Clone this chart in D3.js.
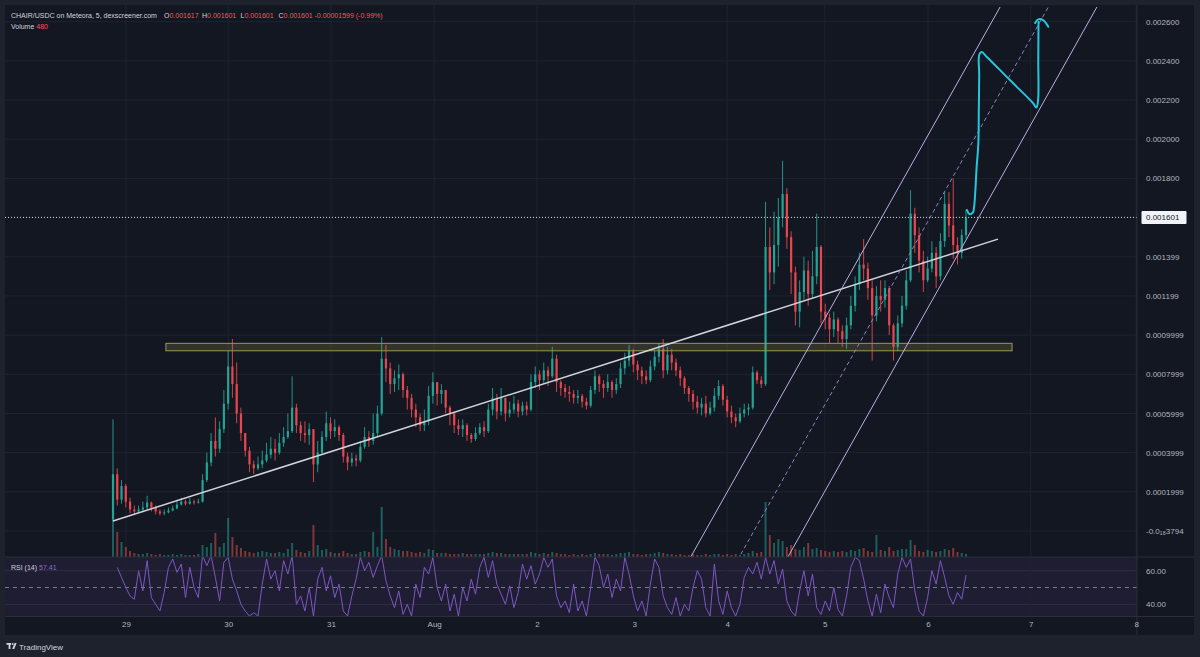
<!DOCTYPE html>
<html>
<head>
<meta charset="utf-8">
<script src="https://cdn.jsdelivr.net/npm/d3@7"></script>
<style>
  body { margin: 0; background: #1e222d; }
  svg { display: block; font-family: "Liberation Sans", Arial, sans-serif; }
</style>
</head>
<body>
<svg id="chart" width="1200" height="657"></svg>
<script>
// prices are typed in units of 0.0001
const UNIT = 1e-4;
const FIRST_OPEN = 0.6;

// one candle per bar index, open = previous close
const closes = [
  2.9, 1.6, 2.3, 1.5, 1.1, 1.0, 1.1, 1.2, 1.45, 1.2,
  1.0, 0.9, 0.95, 1.05, 1.15, 1.35, 1.5, 1.4, 1.5, 1.45,
  1.5, 2.6, 3.5, 4.6, 4.2, 5.2, 6.5, 8.4, 7.5, 6.0,
  5.0, 4.1, 3.4, 3.2, 3.4, 3.6, 3.9, 4.2, 4.0, 4.5,
  4.8, 5.1, 6.3, 5.4, 5.0, 4.9, 5.2, 3.4, 4.0, 4.8,
  5.5, 5.1, 5.3, 4.9, 3.8, 3.5, 3.7, 3.6, 4.3, 4.8,
  4.6, 5.0, 6.0, 8.8, 8.3, 7.5, 7.8, 8.0, 7.2, 6.8,
  6.2, 5.8, 5.4, 5.6, 6.9, 7.6, 7.0, 7.2, 6.3, 6.0,
  5.4, 5.2, 5.4, 4.9, 4.7, 5.0, 5.3, 5.1, 6.2, 6.8,
  6.1, 6.8, 6.0, 6.2, 6.5, 6.1, 6.4, 6.2, 7.6, 8.0,
  7.7, 8.2, 7.9, 8.8, 7.6, 7.3, 7.1, 7.0, 6.8, 6.9,
  6.6, 6.4, 7.2, 7.9, 7.5, 7.3, 7.6, 7.2, 7.5, 8.3,
  8.7, 9.2, 8.5, 8.2, 7.9, 7.7, 8.4, 8.9, 9.3, 8.2,
  9.0, 8.6, 8.2, 7.8, 7.3, 7.0, 6.6, 6.3, 6.5, 6.0,
  6.3, 6.9, 7.4, 6.7, 6.1, 5.8, 5.6, 6.0, 6.2, 6.3,
  8.1, 7.7, 7.5, 14.5, 13.2, 14.6, 16.0, 17.2, 15.0, 13.2,
  11.2, 12.2, 13.3, 12.1, 13.0, 14.5, 11.2, 10.9, 10.3, 10.8,
  10.2, 9.8, 10.5, 11.5, 12.6, 13.6, 13.4, 12.4, 11.0, 12.0,
  11.8, 12.4, 10.5, 9.4, 10.6, 11.5, 12.8, 16.2, 15.1, 13.8,
  12.8, 13.4, 14.2, 13.0, 14.8, 16.7, 15.6, 14.6, 14.2, 15.1,
  16.01
];
const highs = [
  5.7, 3.2, 2.6, 2.4, 1.7, 1.3, 1.3, 1.5, 1.8, 1.5,
  1.3, 1.1, 1.1, 1.2, 1.3, 1.6, 1.7, 1.6, 1.7, 1.6,
  1.65, 2.9, 4.0, 5.0, 5.8, 5.6, 7.2, 9.2, 9.8, 8.6,
  6.3, 5.0, 4.3, 3.6, 3.8, 4.1, 4.5, 4.8, 4.7, 5.0,
  5.3, 6.0, 7.9, 6.5, 5.6, 5.6, 5.5, 5.2, 4.6, 5.1,
  6.1, 5.8, 5.7, 5.4, 5.0, 4.0, 4.0, 3.9, 4.6, 5.3,
  5.1, 6.0, 6.4, 9.9, 9.5, 8.6, 8.2, 8.5, 8.1, 7.4,
  7.0, 6.5, 6.0, 6.2, 7.4, 8.1, 7.6, 7.5, 7.1, 6.4,
  6.1, 5.7, 5.7, 5.5, 5.0, 5.3, 5.5, 5.6, 6.5, 7.3,
  7.0, 7.3, 6.8, 6.6, 6.9, 6.7, 6.6, 6.6, 8.0, 8.4,
  8.2, 8.6, 8.4, 9.4, 9.0, 7.7, 7.5, 7.4, 7.2, 7.2,
  7.0, 6.8, 7.4, 8.2, 8.0, 7.7, 8.0, 7.7, 7.8, 8.6,
  9.1, 9.5, 9.3, 8.7, 8.4, 8.2, 8.7, 9.2, 9.6, 9.8,
  9.4, 9.3, 8.8, 8.4, 7.9, 7.4, 7.2, 6.9, 6.8, 6.9,
  6.6, 7.3, 7.7, 7.5, 6.9, 6.4, 6.0, 6.3, 6.5, 6.5,
  8.4, 8.2, 7.9, 16.8, 15.5, 16.3, 17.0, 18.9, 17.5, 15.3,
  13.5, 12.8, 14.0, 13.8, 14.3, 16.2, 14.6, 11.6, 11.1, 11.2,
  10.9, 10.5, 10.9, 12.0, 13.0, 14.2, 14.9, 13.7, 12.8, 12.5,
  12.8, 12.8, 12.5, 10.6, 11.0, 12.0, 13.3, 17.4, 16.5, 15.5,
  14.3, 14.0, 14.8, 14.5, 15.2, 17.3, 17.3, 18.0, 15.0, 15.4,
  16.4
];
const lows = [
  0.5, 1.3, 1.4, 1.2, 0.9, 0.85, 0.9, 0.95, 1.1, 1.0,
  0.85, 0.8, 0.8, 0.9, 1.0, 1.1, 1.3, 1.3, 1.35, 1.35,
  1.4, 1.45, 2.5, 3.3, 3.8, 4.0, 5.0, 6.2, 6.8, 5.5,
  4.6, 3.8, 3.0, 2.9, 3.1, 3.2, 3.5, 3.7, 3.6, 3.9,
  4.3, 4.7, 5.0, 5.0, 4.6, 4.5, 4.4, 2.5, 3.0, 3.9,
  4.6, 4.7, 4.8, 4.6, 3.5, 3.1, 3.3, 3.3, 3.5, 4.2,
  4.3, 4.4, 4.8, 5.9, 7.6, 7.0, 7.1, 7.2, 6.8, 6.2,
  5.8, 5.3, 5.1, 5.1, 5.4, 6.5, 6.4, 6.5, 6.0, 5.4,
  5.0, 4.9, 4.8, 4.6, 4.5, 4.6, 4.9, 4.8, 5.0, 5.9,
  5.7, 5.9, 5.6, 5.8, 6.0, 5.8, 5.9, 5.9, 6.1, 7.3,
  7.2, 7.5, 7.4, 7.8, 7.1, 6.9, 6.8, 6.6, 6.5, 6.5,
  6.3, 6.2, 6.3, 7.0, 7.1, 6.8, 7.1, 6.8, 7.0, 7.3,
  8.0, 8.4, 8.1, 7.7, 7.5, 7.5, 7.6, 8.2, 8.6, 7.8,
  8.0, 8.2, 7.9, 7.4, 7.0, 6.6, 6.2, 6.0, 5.9, 5.8,
  5.9, 6.1, 6.7, 6.4, 5.8, 5.5, 5.3, 5.5, 5.8, 5.9,
  6.2, 7.5, 7.3, 7.4, 12.3, 12.6, 13.5, 15.5, 14.4, 12.1,
  10.5, 10.4, 11.8, 11.5, 11.9, 12.6, 10.6, 10.3, 9.6, 9.9,
  9.6, 9.4, 9.3, 10.3, 11.2, 12.3, 12.8, 11.8, 8.7, 10.7,
  11.2, 11.4, 10.0, 8.7, 9.2, 10.4, 11.3, 12.7, 14.2, 13.2,
  12.2, 12.7, 13.2, 12.4, 12.8, 14.5, 15.0, 13.9, 13.6, 13.9,
  14.9
];
// volume per bar (thousands)
const volumes = [
  45, 25, 15, 10, 6, 4, 3, 3, 4, 3,
  2, 3, 2, 2, 3, 2, 3, 2, 2, 2,
  3, 12, 10, 14, 24, 10, 14, 39, 20, 12,
  9, 6, 5, 4, 5, 6, 5, 4, 4, 5,
  4, 8, 14, 7, 5, 4, 6, 32, 12, 7,
  8, 5, 4, 4, 6, 4, 3, 3, 5, 6,
  5, 25, 10, 50, 18, 10, 8, 7, 6, 6,
  5, 4, 5, 4, 8, 7, 4, 4, 4, 3,
  3, 3, 4, 3, 3, 3, 3, 3, 4, 5,
  4, 4, 3, 3, 3, 3, 3, 3, 5, 4,
  3, 4, 3, 5, 4, 3, 3, 2, 3, 2,
  3, 2, 3, 4, 3, 3, 3, 2, 3, 4,
  4, 5, 3, 3, 2, 3, 3, 4, 5, 4,
  3, 3, 2, 3, 2, 2, 3, 2, 2, 3,
  2, 3, 3, 2, 3, 2, 3, 2, 3, 4,
  6, 4, 5, 55, 22, 14, 18, 16, 10, 12,
  8, 7, 10, 14, 8, 9, 7, 6, 5, 6,
  5, 6, 5, 7, 6, 8, 9, 6, 5, 22,
  7, 6, 10, 6, 7, 8, 8, 17, 12, 6,
  5, 7, 6, 5, 6, 8, 7, 9, 5, 4,
  3
];
// RSI (14), starting at bar 1
const RSI_START = 1;
const rsiValues = [
  62, 56, 50, 45, 43, 60, 48, 66, 44, 40,
  36, 47, 62, 67, 59, 64, 44, 62, 50, 44,
  69, 63, 69, 56, 42, 65, 68, 55, 48, 40,
  36, 33, 35, 33, 52, 67, 55, 60, 48, 66,
  58, 69, 40, 45, 36, 50, 33, 55, 62, 48,
  57, 44, 52, 36, 33, 45, 55, 68, 60, 65,
  56, 63, 69, 54, 45, 38, 48, 34, 40, 33,
  52, 44, 62, 58, 68, 50, 42, 52, 36, 46,
  33, 50, 42, 55, 46, 62, 68, 56, 66, 52,
  46, 40, 51, 38, 47, 64, 55, 63, 52, 58,
  68, 62, 67, 45, 38, 42, 35, 52, 36, 42,
  33, 50, 68, 63, 50, 58, 44, 55, 48, 68,
  58, 45, 36, 42, 33, 52, 67, 62, 45, 38,
  34, 44, 33, 40, 36, 50, 60, 55, 38, 33,
  64, 42, 34, 48, 38, 33, 40, 56, 62, 58,
  65, 55, 68, 58, 66, 52, 61, 42, 36, 33,
  48, 60, 45, 58, 38, 34, 42, 36, 50, 37,
  33, 45, 62, 68, 66, 55, 42, 33, 46, 35,
  52, 44, 38, 58, 68, 62, 67, 48, 36, 33,
  44, 60, 52, 66, 56, 45, 40, 47, 43, 57.41
];

// axis ticks
const dayTicks = [3.05, 27.0, 51.1, 75.3, 99.4, 122.2, 144.0, 166.9, 191.1, 215.2, 239.9];
const dayLabels = ["29", "30", "31", "Aug", "2", "3", "4", "5", "6", "7", "8"];
const priceTicks = [0.0026, 0.0024, 0.0022, 0.002, 0.0018, 0.0016, 0.0014, 0.0012, 0.001,
                    0.0008, 0.0006, 0.0004, 0.0002, 0];
const priceLabels = ["0.002600", "0.002400", "0.002200", "0.002000", "0.001800", "",
                     "0.001399", "0.001199", "0.0009999", "0.0007999", "0.0005999",
                     "0.0003999", "0.0001999", "-0.0\u2081\u20883794"];
const rsiTicks = [60, 40];
const LAST_PRICE = 0.001601;

// header legend
const titleText = "CHAIR/USDC on Meteora, 5, dexscreener.com";
const ohlcLabels = ["O", "H", "L", "C"];
const ohlcValues = ["0.001617", "0.001601", "0.001601", "0.001601"];
const changeText = "-0.00001599 (-0.99%)";
const volumeText = "480";

// drawings: [barIndex, price in 0.0001]
const trendLine = [[0, 0.51], [207.5, 14.9]];
const zoneBox = {i0: 12.4, i1: 210.8, p0: 9.2, p1: 9.58};
const channelLines = [
  [[135.0, -1.5], [208.0, 26.75]],
  [[157.8, -1.5], [230.7, 26.75]]
];
const channelMid = [[146.4, -1.5], [219.3, 26.75]];
const arrowIdx = [200.2, 200.8, 201.6, 201.9, 202.2, 202.5, 202.9, 203.0, 203.1, 203.1,
                  203.7, 204.9, 210.3, 215.7, 216.5, 216.9, 216.95, 217.0];
const arrowPrice = [16.39, 16.18, 16.25, 16.55, 17.41, 18.60, 19.81, 21.49, 23.28, 24.30,
                    24.45, 24.20, 23.02, 21.85, 21.62, 22.00, 24.04, 25.98];
const headIdx = [216.2, 216.95, 218.1, 219.3];
const headPrice = [25.93, 26.12, 26.08, 25.74];

// layout
const PANE = {left: 5, right: 1137, top: 5, bottom: 557};
const RSI_PANE = {top: 557, bottom: 616.5};
const AXIS_BOTTOM = 635;
const PANEL_RIGHT = 1194;

const UP = "#22a394", DOWN = "#e8474f";
const GRID = "#1f2330", SEP = "#2a2e39", TEXT = "#b2b5be";

const svg = d3.select("#chart");

// scales
const x = d3.scaleLinear().domain([0, 200]).range([113, 966]);
const y = d3.scaleLinear().domain([0, 0.0026]).range([531, 21.7]);
const yRsi = d3.scaleLinear().domain([40, 60]).range([604.3, 570.7]);
const yVol = d3.scaleLinear().domain([0, 60]).range([PANE.bottom, PANE.bottom - 60]);

// candle table
const candles = closes.map((c, i) => {
  let o = i === 0 ? FIRST_OPEN : closes[i - 1];
  return {
    i: i,
    o: o * UNIT,
    c: c * UNIT,
    h: Math.max(highs[i], o, c) * UNIT,
    l: Math.min(lows[i], o, c) * UNIT,
    v: volumes[i],
    up: c >= o
  };
});

// panel backgrounds
svg.append("rect").attr("width", 1200).attr("height", 657).attr("fill", "#1e222d");
svg.append("rect")
    .attr("x", PANE.left).attr("y", PANE.top)
    .attr("width", PANEL_RIGHT - PANE.left).attr("height", AXIS_BOTTOM - PANE.top)
    .attr("fill", "#131722");

// clips
let defs = svg.append("defs");
defs.append("clipPath").attr("id", "mainClip").append("rect")
    .attr("x", PANE.left).attr("y", PANE.top)
    .attr("width", PANE.right - PANE.left).attr("height", PANE.bottom - PANE.top);
defs.append("clipPath").attr("id", "rsiClip").append("rect")
    .attr("x", PANE.left).attr("y", RSI_PANE.top)
    .attr("width", PANE.right - PANE.left).attr("height", RSI_PANE.bottom - RSI_PANE.top);

// RSI background band
svg.append("rect")
    .attr("x", PANE.left).attr("y", RSI_PANE.top)
    .attr("width", PANE.right - PANE.left).attr("height", RSI_PANE.bottom - RSI_PANE.top)
    .attr("fill", "rgba(126,87,194,0.1)");

// grid lines
svg.append("g").selectAll("line")
    .data(priceTicks)
    .enter()
    .append("line")
        .attr("x1", PANE.left).attr("x2", PANE.right)
        .attr("y1", (d) => y(d)).attr("y2", (d) => y(d))
        .attr("stroke", GRID);

svg.append("g").selectAll("line")
    .data(rsiTicks)
    .enter()
    .append("line")
        .attr("x1", PANE.left).attr("x2", PANE.right)
        .attr("y1", (d) => yRsi(d)).attr("y2", (d) => yRsi(d))
        .attr("stroke", "rgba(80,80,110,0.35)");

svg.append("g").selectAll("line")
    .data(dayTicks)
    .enter()
    .append("line")
        .attr("x1", (d) => x(d)).attr("x2", (d) => x(d))
        .attr("y1", PANE.top).attr("y2", RSI_PANE.bottom)
        .attr("stroke", GRID);

// RSI middle dashed line
svg.append("line")
    .attr("x1", PANE.left).attr("x2", PANE.right)
    .attr("y1", yRsi(50)).attr("y2", yRsi(50))
    .attr("stroke", "#787b86").attr("stroke-dasharray", "4,4");

let main = svg.append("g").attr("clip-path", "url(#mainClip)");

// volume histogram
main.append("g").selectAll("rect")
    .data(candles)
    .enter()
    .append("rect")
        .attr("x", (d) => x(d.i) - 1)
        .attr("y", (d) => yVol(d.v))
        .attr("width", 2)
        .attr("height", (d) => PANE.bottom - yVol(d.v))
        .attr("fill", (d) => d.up ? "rgba(38,166,154,0.5)" : "rgba(239,83,80,0.5)");

// candles
let candleG = main.append("g");
candleG.selectAll("line")
    .data(candles)
    .enter()
    .append("line")
        .attr("x1", (d) => x(d.i)).attr("x2", (d) => x(d.i))
        .attr("y1", (d) => y(d.h)).attr("y2", (d) => y(d.l))
        .attr("stroke", (d) => d.up ? UP : DOWN)
        .attr("stroke-width", 0.9);
candleG.selectAll("rect")
    .data(candles)
    .enter()
    .append("rect")
        .attr("x", (d) => x(d.i) - 1.1)
        .attr("y", (d) => y(Math.max(d.o, d.c)))
        .attr("width", 2.2)
        .attr("height", (d) => Math.max(0.8, Math.abs(y(d.o) - y(d.c))))
        .attr("fill", (d) => d.up ? UP : DOWN);

// horizontal zone
main.append("rect")
    .attr("x", x(zoneBox.i0))
    .attr("y", y(zoneBox.p1 * UNIT))
    .attr("width", x(zoneBox.i1) - x(zoneBox.i0))
    .attr("height", y(zoneBox.p0 * UNIT) - y(zoneBox.p1 * UNIT))
    .attr("fill", "rgba(170,160,70,0.22)")
    .attr("stroke", "#9b9652")
    .attr("stroke-width", 1);

// rising trend line
main.append("line")
    .attr("x1", x(trendLine[0][0])).attr("y1", y(trendLine[0][1] * UNIT))
    .attr("x2", x(trendLine[1][0])).attr("y2", y(trendLine[1][1] * UNIT))
    .attr("stroke", "#d1d4dc").attr("stroke-width", 1.5);

// parallel channel
main.append("g").selectAll("line")
    .data(channelLines)
    .enter()
    .append("line")
        .attr("x1", (d) => x(d[0][0])).attr("y1", (d) => y(d[0][1] * UNIT))
        .attr("x2", (d) => x(d[1][0])).attr("y2", (d) => y(d[1][1] * UNIT))
        .attr("stroke", "#bcaee4").attr("stroke-width", 1);
main.append("line")
    .attr("x1", x(channelMid[0][0])).attr("y1", y(channelMid[0][1] * UNIT))
    .attr("x2", x(channelMid[1][0])).attr("y2", y(channelMid[1][1] * UNIT))
    .attr("stroke", "#8f80c0").attr("stroke-width", 1).attr("stroke-dasharray", "4,3");

// hand-drawn projection arrow
let arrowLine = d3.line()
    .x((d) => x(d[0]))
    .y((d) => y(d[1] * UNIT))
    .curve(d3.curveCatmullRom);
main.append("path")
    .attr("d", arrowLine(arrowIdx.map((d, i) => [d, arrowPrice[i]])))
    .attr("fill", "none").attr("stroke", "#26c6da").attr("stroke-width", 2)
    .attr("stroke-linecap", "round").attr("stroke-linejoin", "round");
main.append("path")
    .attr("d", arrowLine(headIdx.map((d, i) => [d, headPrice[i]])))
    .attr("fill", "none").attr("stroke", "#26c6da").attr("stroke-width", 2)
    .attr("stroke-linecap", "round");

// last price line
main.append("line")
    .attr("x1", PANE.left).attr("x2", PANE.right)
    .attr("y1", y(LAST_PRICE)).attr("y2", y(LAST_PRICE))
    .attr("stroke", "#d1d4dc").attr("stroke-width", 1).attr("stroke-dasharray", "1,2");

// RSI line
let rsiLine = d3.line()
    .x((d, i) => x(i + RSI_START))
    .y((d) => yRsi(d));
svg.append("g").attr("clip-path", "url(#rsiClip)")
    .append("path")
    .attr("d", rsiLine(rsiValues))
    .attr("fill", "none").attr("stroke", "#7e57c2").attr("stroke-width", 1);

// separators
svg.append("line").attr("x1", PANE.left).attr("x2", PANEL_RIGHT)
    .attr("y1", PANE.bottom).attr("y2", PANE.bottom).attr("stroke", SEP);
svg.append("line").attr("x1", PANE.left).attr("x2", PANEL_RIGHT)
    .attr("y1", RSI_PANE.bottom).attr("y2", RSI_PANE.bottom).attr("stroke", SEP);
svg.append("line").attr("x1", PANE.right).attr("x2", PANE.right)
    .attr("y1", PANE.top).attr("y2", AXIS_BOTTOM).attr("stroke", SEP);

// price axis
let yAxisG = svg.append("g")
    .attr("transform", "translate(" + PANE.right + ",0)")
    .call(d3.axisRight(y).tickValues(priceTicks)
        .tickFormat((d, i) => priceLabels[i]).tickSize(0).tickPadding(9));
let rsiAxisG = svg.append("g")
    .attr("transform", "translate(" + PANE.right + ",0)")
    .call(d3.axisRight(yRsi).tickValues(rsiTicks)
        .tickFormat(d3.format(".2f")).tickSize(0).tickPadding(9));
let xAxisG = svg.append("g")
    .attr("transform", "translate(0," + RSI_PANE.bottom + ")")
    .call(d3.axisBottom(x).tickValues(dayTicks)
        .tickFormat((d, i) => dayLabels[i]).tickSize(0).tickPadding(5));

[yAxisG, rsiAxisG, xAxisG].forEach((g) => {
  g.select(".domain").remove();
  g.selectAll("text")
      .attr("fill", TEXT)
      .attr("font-size", "8px")
      .attr("font-family", "'Liberation Sans', Arial, sans-serif");
});

// last price label
svg.append("rect")
    .attr("x", 1141.5).attr("y", y(LAST_PRICE) - 6.5)
    .attr("width", 45).attr("height", 13).attr("rx", 1)
    .attr("fill", "#f0f3fa");
svg.append("text")
    .attr("x", 1146).attr("y", y(LAST_PRICE) + 3)
    .attr("font-size", "8px").attr("fill", "#131722")
    .text(d3.format(".6f")(LAST_PRICE));

// header legend
let legend = svg.append("g").attr("font-size", "7px");
legend.append("text").attr("x", 11).attr("y", 17.5).attr("fill", "#d1d4dc").text(titleText);
const legendX = [164, 202, 240.5, 278.5];
ohlcLabels.forEach((lab, i) => {
  let t = legend.append("text").attr("x", legendX[i]).attr("y", 17.5);
  t.append("tspan").attr("fill", "#d1d4dc").text(lab);
  t.append("tspan").attr("fill", "#f7525f").text(ohlcValues[i]);
});
legend.append("text").attr("x", 314.5).attr("y", 17.5).attr("fill", "#f7525f").text(changeText);
let volText = legend.append("text").attr("x", 11).attr("y", 29);
volText.append("tspan").attr("fill", "#d1d4dc").text("Volume ");
volText.append("tspan").attr("fill", "#f7525f").text(" " + volumeText);

// RSI legend
let rsiText = svg.append("text").attr("x", 11).attr("y", 569.5).attr("font-size", "7px");
rsiText.append("tspan").attr("fill", "#d1d4dc").text("RSI (14) ");
rsiText.append("tspan").attr("fill", "#8e6cd0").text(" " + d3.format(".2f")(rsiValues[rsiValues.length - 1]));

// footer logo
let logo = svg.append("g").attr("fill", "#d1d4dc");
logo.append("rect").attr("x", 6.5).attr("y", 643).attr("width", 4.5).attr("height", 1.8);
logo.append("rect").attr("x", 8.6).attr("y", 643).attr("width", 1.8).attr("height", 6);
logo.append("circle").attr("cx", 12.6).attr("cy", 644).attr("r", 1);
logo.append("path").attr("d", "M12.2,649 L14.6,643 L16.6,643 L14.2,649 Z");
svg.append("text").attr("x", 19).attr("y", 649.5)
    .attr("font-size", "8px").attr("fill", "#d1d4dc").text("TradingView");
</script>
</body>
</html>
